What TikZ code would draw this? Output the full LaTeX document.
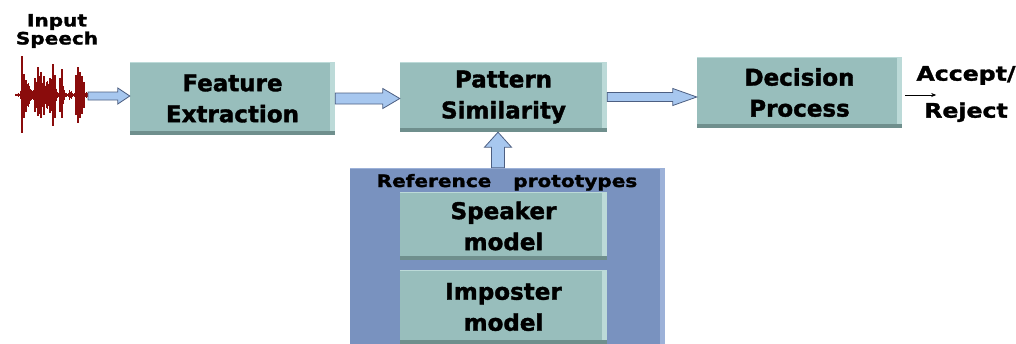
\documentclass[tikz,border=0pt]{standalone}
\usepackage{fontspec}
\setmainfont{DejaVu Sans}[FakeBold=1.6]
\newfontfamily\widesans{DejaVu Sans}[FakeStretch=1.18,FakeBold=1.6]
\usetikzlibrary{calc,arrows.meta}

\definecolor{boxfill}{HTML}{98BEBC}
\definecolor{boxlight}{HTML}{BCDAD8}
\definecolor{boxdark}{HTML}{6F8F8D}
\definecolor{backfill}{HTML}{7992BF}
\definecolor{backlight}{HTML}{9CB1D8}
\definecolor{arrowfill}{HTML}{A7C7EF}
\definecolor{arrowline}{HTML}{4D5F82}
\definecolor{wavered}{HTML}{8A0C0C}

\tikzset{
  bevelbox/.style={fill=boxfill, draw=none, inner sep=0pt, align=center,
    font=\fontsize{23}{31}\selectfont\bfseries,
    path picture={
      \fill[boxlight] ([xshift=-5pt]path picture bounding box.north east) rectangle (path picture bounding box.south east);
      \fill[boxdark] (path picture bounding box.south west) rectangle ([yshift=4pt]path picture bounding box.south east);
      \draw[boxlight, line width=1.5pt] (path picture bounding box.north west) -- (path picture bounding box.north east);
    }},
  backbox/.style={fill=backfill, draw=none, inner sep=0pt,
    path picture={
      \fill[backlight] ([xshift=-5pt]path picture bounding box.north east) rectangle (path picture bounding box.south east);
      \draw[backlight, line width=1.5pt] (path picture bounding box.north west) -- (path picture bounding box.north east);
    }},
  blk/.style={fill=arrowfill, draw=arrowline, line width=0.8pt, line join=miter},
  smalllabel/.style={inner sep=0pt, align=center, font=\widesans\bfseries},
  wave/.style={draw=wavered, line width=0.6pt},
  spike/.style={draw=wavered, line width=1.1pt},
}

% horizontal block arrow: from, to, half body, half head, head length
\newcommand\harrow[5]{%
  \draw[blk] let \p1=(#1), \p2=(#2) in
    (\x1,\y1+#3) -- (\x2-#5,\y1+#3) -- (\x2-#5,\y1+#4) -- (\x2,\y1)
    -- (\x2-#5,\y1-#4) -- (\x2-#5,\y1-#3) -- (\x1,\y1-#3) -- cycle;}

\begin{document}
\begin{tikzpicture}[x=1pt, y=-1pt,
  declare function={bmp(\t,\c,\w)=exp(-min(((\t-\c)/\w)^2,9));}]
\useasboundingbox (0,0) rectangle (1016,343);
\clip (0,0) rectangle (1016,343);

% speech waveform: baseline, dense texture, then the tall bursts
\draw[wavered, line width=1.2pt] (15,95) -- (88,95);
\foreach \x in {15,15.6,...,87.2} {
  \pgfmathsetmacro\amp{(1.5 + 14*bmp(\x,23,2.5) + 10*bmp(\x,28,3) + 18*bmp(\x,39,4)
     + 12*bmp(\x,47,3) + 18*bmp(\x,53,2.5) + 14*bmp(\x,62,2) + 4*bmp(\x,70,1.2)
     + 18*bmp(\x,78,2) + 13*bmp(\x,82,2.5))*(0.45+0.55*abs(sin(\x*131)))}
  \draw[wave] (\x,95-\amp) -- (\x,95+\amp);
}
\foreach \sx/\st/\sb in {22/56/133, 24/74/118, 26/80/112, 35/78/112, 38/67/116,
    41/72/118, 44/76/115, 50/78/113, 53/64/126, 55/75/118, 60/78/112,
    62/69/118, 76/75/115, 78/67/123, 80/72/118, 82/76/114, 84/82/108}
  \draw[spike] (\sx,\st) -- (\sx,\sb);
\coordinate (wv) at (88,96);

\node[smalllabel, font=\widesans\bfseries\fontsize{17}{18}\selectfont] (insp) at (57,31) {Input\\Speech};

% main chain
\node[bevelbox, minimum width=205pt, minimum height=73pt] (fe) at (232.5,98.5) {Feature\\Extraction};
\node[bevelbox, minimum width=207pt, minimum height=70pt] (ps) at (503.5,97) {Pattern\\Similarity};
\node[bevelbox, minimum width=205pt, minimum height=71pt] (dp) at (799.5,92.5) {Decision\\Process};

% reference prototypes
\node[backbox, minimum width=315pt, minimum height=182pt] (back) at (507.5,259) {};
\node[smalllabel, font=\widesans\bfseries\fontsize{17}{18}\selectfont, anchor=base] (reflab) at (507,187) {Reference\hspace{22pt}prototypes};
\node[bevelbox, minimum width=207pt, minimum height=68pt] (sm) at (503.5,226) {Speaker\\model};
\node[bevelbox, minimum width=207pt, minimum height=74pt] (im) at (503.5,307) {Imposter\\model};

% arrows
\harrow{wv}{fe.west}{4pt}{8pt}{12pt}
\harrow{fe.east}{ps.west}{5.5pt}{10pt}{17pt}
\harrow{ps.east}{dp.west}{4.5pt}{8.5pt}{24pt}
\draw[blk] let \p1=([xshift=-9.5pt]back.north), \p2=(ps.south) in
  (\x1-6.5pt,\y1) -- (\x1-6.5pt,\y2-15pt) -- (\x1-13.5pt,\y2-15pt) -- (\x1,\y2)
  -- (\x1+13.5pt,\y2-15pt) -- (\x1+6.5pt,\y2-15pt) -- (\x1+6.5pt,\y1) -- cycle;

% output
\draw[line width=0.6pt, -{Stealth[length=5pt,width=4pt]}] ([shift={(3pt,-2.5pt)}]dp.east) -- ++(31pt,0);
\node[smalllabel, font=\widesans\bfseries\fontsize{20}{37}\selectfont] (out) at (966,94) {Accept/\\Reject};
\end{tikzpicture}
\end{document}
